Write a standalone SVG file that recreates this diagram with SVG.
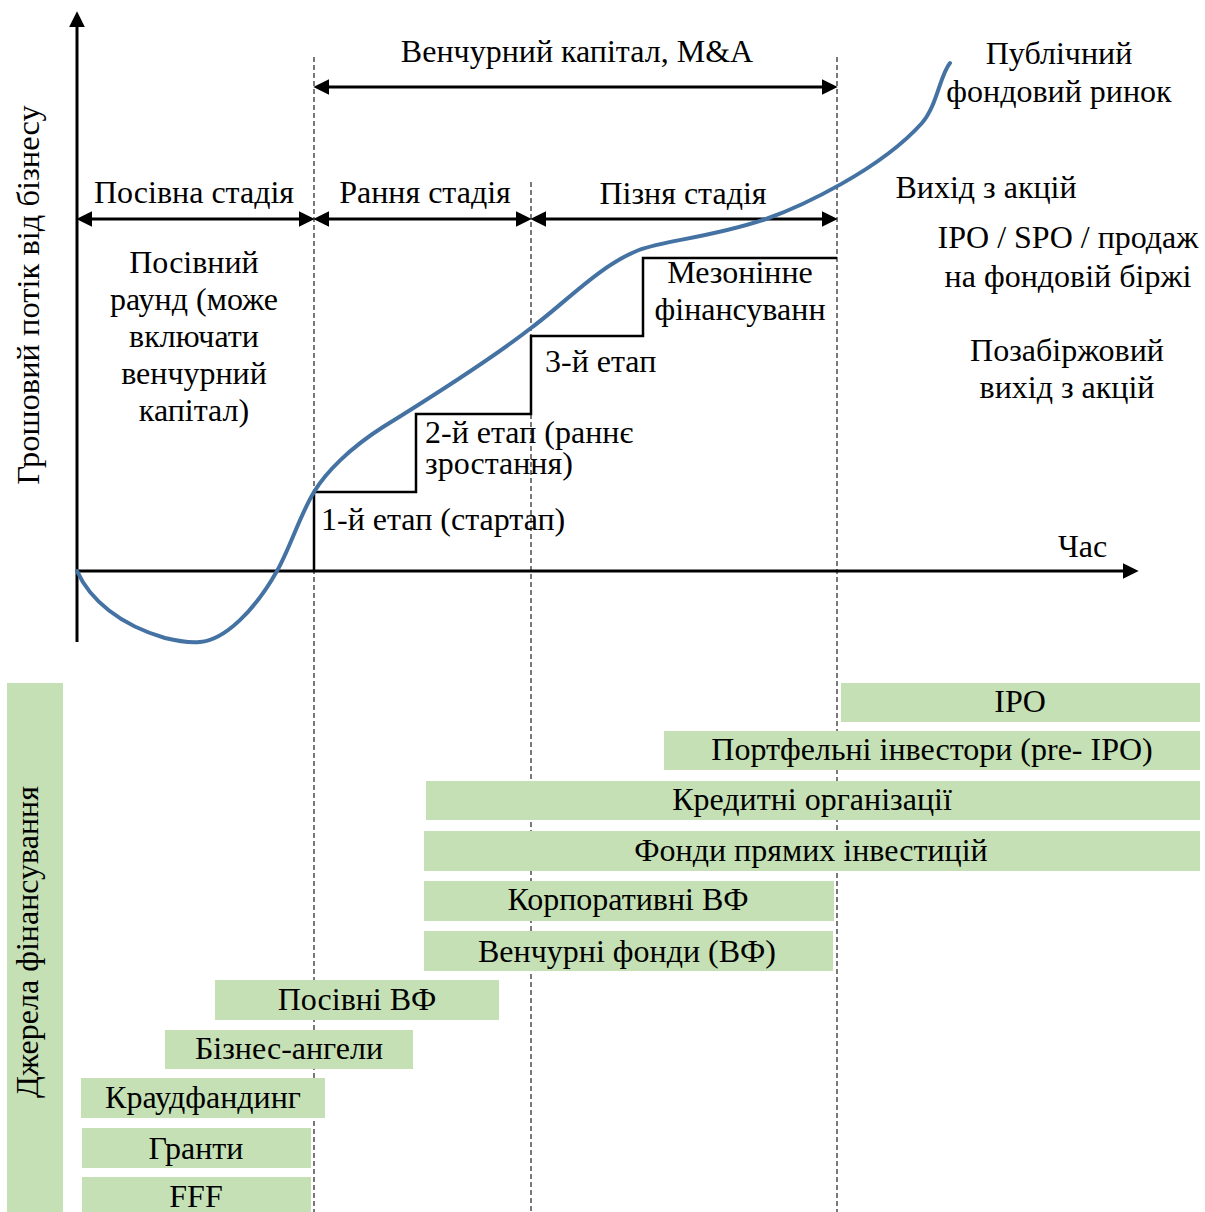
<svg xmlns="http://www.w3.org/2000/svg" width="1205" height="1212" viewBox="0 0 1205 1212">
<style>
text{font-family:"Liberation Serif","Times New Roman",serif;font-size:32px;fill:#000}
.c{text-anchor:middle}
.dash{stroke:#333;stroke-width:1.3;stroke-dasharray:5 3;fill:none}
.ax{stroke:#000;stroke-width:3;fill:none}
.arr{stroke:#000;stroke-width:3;fill:none;marker-start:url(#ah);marker-end:url(#ah)}
.bar{fill:#c5e0b4}
.step{stroke:#000;stroke-width:2.5;fill:none}
.curve{stroke:#4472a2;stroke-width:4;fill:none;stroke-linecap:round}
</style>
<defs>
<marker id="ah" markerUnits="userSpaceOnUse" markerWidth="16" markerHeight="16" viewBox="0 0 15 15" refX="5" refY="7.5" orient="auto-start-reverse">
<path d="M0,0 L15,7.5 L0,15 z" fill="#000"/>
</marker>
<marker id="ahe" markerUnits="userSpaceOnUse" markerWidth="16" markerHeight="16" viewBox="0 0 15 15" refX="5" refY="7.5" orient="auto">
<path d="M0,0 L15,7.5 L0,15 z" fill="#000"/>
</marker>
</defs>

<g id="gridlines">
<line class="dash" x1="314" y1="57" x2="314" y2="1212"/>
<line class="dash" x1="531" y1="182" x2="531" y2="1212"/>
<line class="dash" x1="837" y1="57" x2="837" y2="1212"/>
</g>

<g id="axes">
<line class="ax" x1="77" y1="642" x2="77" y2="22" marker-end="url(#ahe)"/>
<line class="ax" x1="77" y1="571" x2="1128" y2="571" marker-end="url(#ahe)"/>
<text class="c" style="font-size:32.5px" transform="translate(39,295) rotate(-90)">Грошовий потік від бізнесу</text>
<text x="1058" y="557">Час</text>
</g>

<g id="connectors">
<line class="arr" x1="324" y1="87" x2="827" y2="87"/>
<line class="arr" x1="87" y1="219" x2="304" y2="219"/>
<line class="arr" x1="324" y1="219" x2="521" y2="219"/>
<line class="arr" x1="541" y1="219" x2="827" y2="219"/>
</g>

<g id="stage-labels">
<text class="c" x="577" y="62">Венчурний капітал, M&amp;A</text>
<text class="c" x="194" y="203">Посівна стадія</text>
<text class="c" x="425" y="203">Рання стадія</text>
<text class="c" x="683" y="204">Пізня стадія</text>
<text class="c" x="194" y="273">Посівний</text>
<text class="c" x="194" y="310">раунд (може</text>
<text class="c" x="194" y="347">включати</text>
<text class="c" x="194" y="384">венчурний</text>
<text class="c" x="194" y="421">капітал)</text>
</g>

<g id="exit-labels">
<text class="c" x="1059" y="64">Публічний</text>
<text class="c" x="1059" y="102">фондовий ринок</text>
<text class="c" x="986" y="198">Вихід з акцій</text>
<text class="c" x="1068" y="248">IPO / SPO / продаж</text>
<text class="c" x="1068" y="287">на фондовій біржі</text>
<text class="c" x="1067" y="361">Позабіржовий</text>
<text class="c" x="1067" y="398">вихід з акцій</text>
</g>

<g id="steps">
<polyline class="step" points="314,571 314,492 416,492 416,414 531,414 531,336 643,336 643,258 837,258"/>
<text x="321" y="530">1-й етап (стартап)</text>
<text x="425" y="443">2-й етап (раннє</text>
<text x="425" y="474">зростання)</text>
<text x="545" y="372">3-й етап</text>
<text class="c" x="740" y="283">Мезонінне</text>
<text class="c" x="740" y="320">фінансуванн</text>
</g>

<g id="curve">
<path class="curve" d="M77,571 C90,600 120,625 165,638 C177,641 188,643 200,642 C225,640 255,610 277,571 C290,548 300,515 314,492 C326,472 350,448 383,427 C420,404 490,360 531,328 C565,303 600,265 639,250 C665,240 710,238 766,219 C800,207 880,170 922,123 C937,106 940,75 950,63"/>
</g>

<g id="sources-title">
<rect class="bar" x="7" y="683" width="56" height="529"/>
<text class="c" transform="translate(38,942) rotate(-90)">Джерела фінансування</text>
</g>

<g id="src-ipo"><rect class="bar" x="841" y="683" width="359" height="39"/><text class="c" x="1020" y="712">IPO</text></g>
<g id="src-preipo"><rect class="bar" x="664" y="731" width="536" height="39"/><text class="c" x="932" y="760">Портфельні інвестори (pre- IPO)</text></g>
<g id="src-credit"><rect class="bar" x="426" y="781" width="774" height="39"/><text class="c" x="812" y="810">Кредитні організації</text></g>
<g id="src-pe"><rect class="bar" x="424" y="831" width="776" height="40"/><text class="c" x="811" y="861">Фонди прямих інвестицій</text></g>
<g id="src-cvc"><rect class="bar" x="424" y="881" width="410" height="40"/><text class="c" x="628" y="910">Корпоративні ВФ</text></g>
<g id="src-vc"><rect class="bar" x="424" y="931" width="409" height="40"/><text class="c" x="627" y="962">Венчурні фонди (ВФ)</text></g>
<g id="src-seedvc"><rect class="bar" x="215" y="980" width="284" height="40"/><text class="c" x="357" y="1010">Посівні ВФ</text></g>
<g id="src-angels"><rect class="bar" x="165" y="1030" width="248" height="39"/><text class="c" x="289" y="1059">Бізнес-ангели</text></g>
<g id="src-crowd"><rect class="bar" x="81" y="1078" width="244" height="40"/><text class="c" x="203" y="1108">Краудфандинг</text></g>
<g id="src-grants"><rect class="bar" x="82" y="1128" width="229" height="40"/><text class="c" x="196" y="1159">Гранти</text></g>
<g id="src-fff"><rect class="bar" x="82" y="1177" width="229" height="35"/><text class="c" x="196" y="1207">FFF</text></g>
</svg>
